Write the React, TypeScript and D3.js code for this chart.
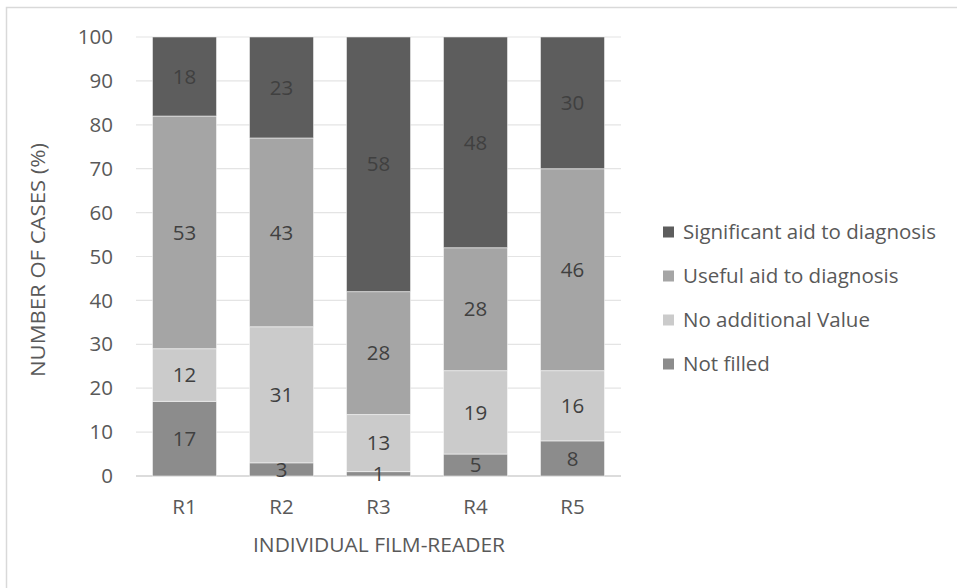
import React from "react";
import * as d3 from "d3";

const categories = ["R1", "R2", "R3", "R4", "R5"];
const seriesNames = [
  "Not filled",
  "No additional Value",
  "Useful aid to diagnosis",
  "Significant aid to diagnosis",
];
const notFilled = [17, 3, 1, 5, 8];
const noAdditional = [12, 31, 13, 19, 16];
const usefulAid = [53, 43, 28, 28, 46];
const significantAid = [18, 23, 58, 48, 30];
const yTicks = [0, 10, 20, 30, 40, 50, 60, 70, 80, 90, 100];
const colors = ["#8c8c8c", "#cbcbcb", "#a5a5a5", "#5d5d5d"];

const W = 957;
const H = 588;
const FONT = "'Open Sans', sans-serif";
const FS = 20.5;

export default function App() {
  const rows = categories.map((c, i) => ({
    cat: c,
    s0: notFilled[i],
    s1: noAdditional[i],
    s2: usefulAid[i],
    s3: significantAid[i],
  }));
  const keys = ["s0", "s1", "s2", "s3"];
  const stack = d3.stack<any>().keys(keys)(rows);

  const x = d3.scaleBand().domain(categories).range([136, 621]).paddingInner(0.34).paddingOuter(0.17);
  const y = d3.scaleLinear().domain([0, 100]).range([476, 37]);

  const legendOrder = [3, 2, 1, 0];
  const legendY = [232, 276, 320, 364];

  return (
    <svg width={W} height={H} style={{ position: "absolute", left: 0, top: 0 }} fontFamily={FONT}>
      <rect x={0} y={0} width={W} height={H} fill="#fff" />
      <rect x={6.5} y={7.5} width={W + 10} height={H + 10} fill="none" stroke="#d9d9d9" strokeWidth={1.5} />
      {yTicks.map((t) => (
        <g key={t}>
          <line x1={136} x2={621} y1={y(t)} y2={y(t)} stroke={t === 0 ? "#d0d0d0" : "#e4e4e4"} strokeWidth={t === 0 ? 1.5 : 1.2} />
          <text x={113} y={y(t)} dy="0.35em" textAnchor="end" fontSize={FS} fill="#595959">
            {t}
          </text>
        </g>
      ))}
      {stack.map((layer, li) => (
        <g key={li}>
          {layer.map((d, i) => (
            <rect
              key={i}
              x={x(categories[i])!}
              width={x.bandwidth()}
              y={y(d[1])}
              height={y(d[0]) - y(d[1])}
              fill={colors[li]}
              stroke="#ffffff"
              strokeOpacity={0.5}
              strokeWidth={1}
            />
          ))}
        </g>
      ))}
      {stack.map((layer, li) => (
        <g key={"l" + li}>
          {layer.map((d, i) => (
            <text
              key={i}
              x={x(categories[i])! + x.bandwidth() / 2}
              y={(y(d[0]) + y(d[1])) / 2}
              dy="0.35em"
              textAnchor="middle"
              fontSize={FS}
              fill="#404040"
            >
              {d[1] - d[0]}
            </text>
          ))}
        </g>
      ))}
      {categories.map((c) => (
        <text key={c} x={x(c)! + x.bandwidth() / 2} y={507} dy="0.35em" textAnchor="middle" fontSize={FS} fill="#595959">
          {c}
        </text>
      ))}
      <text x={379} y={545} dy="0.35em" textAnchor="middle" fontSize={FS} fill="#595959" textLength={252} lengthAdjust="spacingAndGlyphs">
        INDIVIDUAL FILM-READER
      </text>
      <text
        transform={`translate(38,260) rotate(-90)`}
        dy="0.35em"
        textAnchor="middle"
        fontSize={FS}
        fill="#595959"
        textLength={234}
        lengthAdjust="spacingAndGlyphs"
      >
        NUMBER OF CASES (%)
      </text>
      {legendOrder.map((si, k) => (
        <g key={si}>
          <rect x={663} y={legendY[k] - 5.5} width={11} height={11} fill={colors[si]} />
          <text x={683} y={legendY[k]} dy="0.35em" fontSize={FS} fill="#595959">
            {seriesNames[si]}
          </text>
        </g>
      ))}
    </svg>
  );
}
